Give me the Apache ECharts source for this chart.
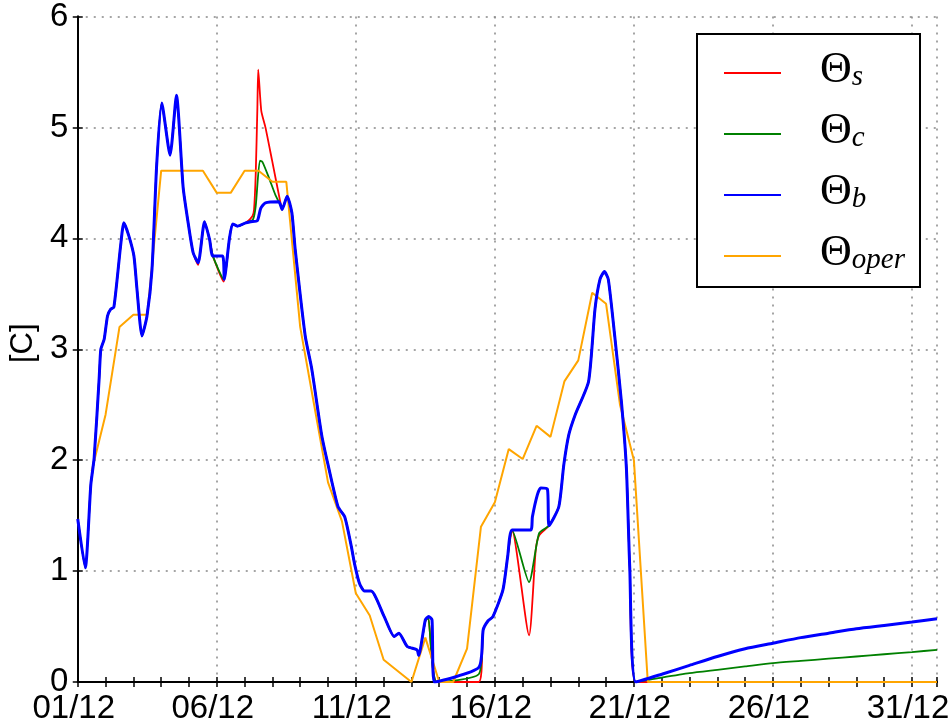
<!DOCTYPE html>
<html><head><meta charset="utf-8">
<script src="https://cdn.jsdelivr.net/npm/echarts@6/dist/echarts.min.js"></script>
<style>html,body{margin:0;padding:0;background:#fff}#c{width:952px;height:725px}</style>
</head><body><div id="c"></div>
<script>
// x values are days after 01/12 00:00
const xTickLabels = ['01/12','06/12','11/12','16/12','21/12','26/12','31/12'];
const yTickValues = [0,1,2,3,4,5,6];
const legendLabels = ['Θs','Θc','Θb','Θoper'];

const thetaB = [[0,1.47],[0.27,1.03],[0.47,1.78],[0.59,2.02],[0.77,2.74],[0.83,3.0],[0.95,3.09],[1.07,3.30],[1.18,3.36],[1.30,3.38],[1.54,3.93],[1.66,4.14],[1.84,4.02],[2.02,3.84],[2.13,3.54],[2.31,3.12],[2.49,3.30],[2.67,3.72],[2.84,4.67],[3.02,5.22],[3.32,4.75],[3.55,5.29],[3.79,4.46],[3.97,4.14],[4.15,3.87],[4.33,3.78],[4.56,4.15],[4.74,3.99],[4.86,3.84],[5.21,3.84],[5.27,3.63],[5.45,3.99],[5.57,4.13],[5.75,4.11],[6.04,4.14],[6.22,4.15],[6.46,4.16],[6.58,4.27],[6.75,4.32],[7.23,4.33],[7.35,4.26],[7.53,4.38],[7.70,4.23],[7.82,3.90],[8.18,3.12],[8.41,2.83],[8.77,2.23],[9.00,1.96],[9.36,1.58],[9.60,1.49],[9.84,1.22],[9.95,1.07],[10.13,0.89],[10.31,0.82],[10.55,0.82],[11.02,0.59],[11.38,0.41],[11.55,0.44],[11.85,0.32],[12.20,0.29],[12.26,0.24],[12.50,0.56],[12.62,0.59],[12.74,0.56],[12.82,0.0],[14.42,0.13],[14.58,0.47],[14.75,0.55],[14.93,0.59],[15.29,0.83],[15.46,1.13],[15.62,1.37],[16.29,1.37],[16.35,1.49],[16.53,1.69],[16.65,1.75],[16.89,1.74],[16.95,1.41],[17.30,1.58],[17.48,1.96],[17.66,2.23],[17.89,2.41],[18.37,2.71],[18.60,3.36],[18.78,3.63],[18.94,3.70],[19.08,3.63],[19.31,3.12],[19.55,2.53],[19.73,1.93],[19.85,1.04],[20.07,0],[21,0.07],[22,0.15],[23,0.23],[24,0.30],[25,0.35],[26,0.40],[27,0.44],[28,0.48],[29,0.51],[30,0.54],[30.9,0.57]];

const thetaC = [[0,1.47],[0.27,1.03],[0.47,1.78],[0.59,2.02],[0.77,2.74],[0.83,3.0],[0.95,3.09],[1.07,3.30],[1.18,3.36],[1.30,3.38],[1.54,3.93],[1.66,4.14],[1.84,4.02],[2.02,3.84],[2.13,3.54],[2.31,3.12],[2.49,3.30],[2.67,3.72],[2.84,4.67],[3.02,5.22],[3.32,4.75],[3.55,5.29],[3.79,4.46],[3.97,4.14],[4.15,3.87],[4.33,3.78],[4.56,4.15],[4.74,3.99],[4.86,3.84],[5.25,3.63],[5.45,3.99],[5.57,4.13],[5.75,4.11],[6.04,4.14],[6.30,4.17],[6.40,4.29],[6.55,4.70],[6.64,4.69],[6.87,4.55],[7.11,4.39],[7.29,4.30],[7.35,4.26],[7.53,4.38],[7.70,4.23],[7.82,3.90],[8.18,3.12],[8.41,2.83],[8.77,2.23],[9.00,1.96],[9.36,1.58],[9.60,1.49],[9.84,1.22],[9.95,1.07],[10.13,0.89],[10.31,0.82],[10.55,0.82],[11.02,0.59],[11.38,0.41],[11.55,0.44],[11.85,0.32],[12.20,0.29],[12.26,0.24],[12.50,0.55],[12.60,0.58],[12.92,0],[14.42,0.07],[14.58,0.47],[14.75,0.55],[14.93,0.59],[15.29,0.83],[15.46,1.13],[15.62,1.37],[16.23,0.90],[16.59,1.34],[16.95,1.41],[17.30,1.58],[17.48,1.96],[17.66,2.23],[17.89,2.41],[18.37,2.71],[18.60,3.36],[18.78,3.63],[18.94,3.70],[19.08,3.63],[19.31,3.12],[19.55,2.53],[19.73,1.93],[19.85,1.04],[20.07,0],[21,0.04],[22,0.08],[23,0.11],[24,0.14],[25,0.17],[26,0.19],[27,0.21],[28,0.23],[29,0.25],[30,0.27],[30.9,0.29]];

const thetaS = [[0,1.47],[0.27,1.03],[0.47,1.78],[0.59,2.02],[0.77,2.74],[0.83,3.0],[0.95,3.09],[1.07,3.30],[1.18,3.36],[1.30,3.38],[1.54,3.93],[1.66,4.14],[1.84,4.02],[2.02,3.84],[2.13,3.54],[2.31,3.12],[2.49,3.30],[2.67,3.72],[2.84,4.67],[3.02,5.22],[3.32,4.75],[3.55,5.29],[3.79,4.46],[3.97,4.14],[4.15,3.87],[4.33,3.76],[4.56,4.15],[4.74,3.99],[4.86,3.84],[5.25,3.61],[5.45,3.99],[5.57,4.13],[5.75,4.11],[6.04,4.14],[6.28,4.20],[6.34,4.26],[6.40,4.58],[6.46,5.18],[6.49,5.52],[6.60,5.15],[6.75,5.00],[6.99,4.70],[7.29,4.32],[7.35,4.26],[7.53,4.38],[7.70,4.23],[7.82,3.90],[8.18,3.12],[8.41,2.83],[8.77,2.23],[9.00,1.96],[9.36,1.58],[9.60,1.49],[9.84,1.22],[9.95,1.07],[10.13,0.89],[10.31,0.82],[10.55,0.82],[11.02,0.59],[11.38,0.41],[11.55,0.44],[11.85,0.32],[12.20,0.29],[12.26,0.24],[12.50,0.55],[12.60,0.58],[12.92,0],[14.42,0],[14.58,0.47],[14.75,0.55],[14.93,0.59],[15.29,0.83],[15.46,1.13],[15.62,1.37],[16.23,0.42],[16.47,1.19],[16.59,1.32],[16.95,1.41],[17.30,1.58],[17.48,1.96],[17.66,2.23],[17.89,2.41],[18.37,2.71],[18.60,3.36],[18.78,3.63],[18.94,3.70],[19.08,3.63],[19.31,3.12],[19.55,2.53],[19.73,1.93],[19.85,1.04],[20.07,0],[30.9,0]];

const thetaOper = [[0.5,1.90],[1.0,2.41],[1.5,3.20],[2.0,3.31],[2.5,3.31],[3.0,4.61],[4.5,4.61],[5.0,4.41],[5.5,4.41],[6.0,4.61],[6.5,4.61],[7.0,4.51],[7.5,4.51],[8.0,3.20],[8.5,2.50],[9.0,1.80],[9.5,1.45],[10.0,0.80],[10.5,0.60],[11.0,0.20],[12.0,0],[12.5,0.40],[13.0,0],[13.5,0],[14.0,0.30],[14.5,1.40],[15.0,1.62],[15.5,2.10],[16.0,2.01],[16.5,2.31],[17.0,2.21],[17.5,2.71],[18.0,2.90],[18.5,3.51],[19.0,3.41],[19.5,2.50],[20.0,2.00],[20.5,0],[30.9,0]];

const X_MAX = 30.9;
const SMOOTH = 0.2;
const tickStyle = {show:true, inside:true, length:5, lineStyle:{color:'#000', width:1.5}};
const axisLineStyle = {show:true, lineStyle:{color:'#000', width:2}};
const gridStyle = {show:true, lineStyle:{color:'#888', width:1.5, type:[2,6]}};
const labelFont = {fontFamily:'Liberation Sans', fontSize:33, color:'#000'};

const chart = echarts.init(document.getElementById('c'));
chart.setOption({
  animation:false,
  backgroundColor:'#fff',
  grid:{left:69, right:12.5, top:15, bottom:38.6, containLabel:false},
  graphic:[{type:'rect', z:10, shape:{x:697, y:34, width:223, height:253},
            style:{fill:'#fff', stroke:'#000', lineWidth:2}}],
  legend:{
    orient:'vertical', left:697, top:34, z:20,
    data:legendLabels,
    icon:'rect', itemWidth:57, itemHeight:2, itemGap:17,
    padding:[14,0,12,27],
    borderWidth:0, backgroundColor:'transparent',
    formatter:function(name){ return '{t|Θ}{sub|' + name.slice(1) + '}'; },
    textStyle:{
      padding:[0,0,6,34], color:'#000',
      rich:{
        t:{fontFamily:'Liberation Serif', fontSize:44, lineHeight:44, verticalAlign:'bottom', color:'#000'},
        sub:{fontFamily:'Liberation Serif', fontStyle:'italic', fontSize:29, lineHeight:27, verticalAlign:'bottom', color:'#000'}
      }
    }
  },
  xAxis:[
    {type:'value', position:'bottom', min:0, max:X_MAX, interval:1,
     axisLine:axisLineStyle, axisTick:tickStyle, splitLine:{show:false},
     axisLabel:Object.assign({margin:10, padding:[0,8,0,0], alignMinLabel:'center', alignMaxLabel:'center', formatter:function(v){
        const i = v/5; return (Number.isInteger(i) && xTickLabels[i]) ? xTickLabels[i] : '';
     }}, labelFont)},
    {type:'value', position:'top', min:0, max:X_MAX, interval:1,
     axisLine:axisLineStyle, axisTick:tickStyle, splitLine:{show:false}, axisLabel:{show:false}},
    {type:'value', position:'bottom', min:0, max:X_MAX, interval:5,
     axisLine:{show:false}, axisTick:{show:false}, axisLabel:{show:false}, splitLine:gridStyle}
  ],
  yAxis:[
    {type:'value', position:'left', min:0, max:6, interval:1,
     name:'[C]', nameLocation:'middle', nameGap:38, nameRotate:90,
     nameTextStyle:{fontFamily:'Liberation Sans', fontSize:31, color:'#000', padding:[0,0,0,12]},
     axisLine:axisLineStyle, axisTick:tickStyle, splitLine:gridStyle,
     axisLabel:Object.assign({margin:9.5, padding:[0,0,7,0], formatter:function(v){
        return yTickValues.indexOf(v) >= 0 ? String(v) : '';
     }}, labelFont)},
    {type:'value', position:'right', min:0, max:6, interval:1,
     axisLine:axisLineStyle, axisTick:tickStyle, splitLine:{show:false}, axisLabel:{show:false}}
  ],
  series:[
    {name:'Θs', type:'line', data:thetaS, showSymbol:false, smooth:SMOOTH, color:'#ff0000', itemStyle:{color:'#ff0000'}, lineStyle:{color:'#ff0000', width:1.8}, z:2},
    {name:'Θc', type:'line', data:thetaC, showSymbol:false, smooth:SMOOTH, color:'#008000', itemStyle:{color:'#008000'}, lineStyle:{color:'#008000', width:1.8}, z:3},
    {name:'Θoper', type:'line', data:thetaOper, showSymbol:false, color:'#ffa500', itemStyle:{color:'#ffa500'}, lineStyle:{color:'#ffa500', width:2}, z:4},
    {name:'Θb', type:'line', data:thetaB, showSymbol:false, smooth:SMOOTH, color:'#0000ff', itemStyle:{color:'#0000ff'}, lineStyle:{color:'#0000ff', width:3}, z:5}
  ]
});
</script>
</body></html>
